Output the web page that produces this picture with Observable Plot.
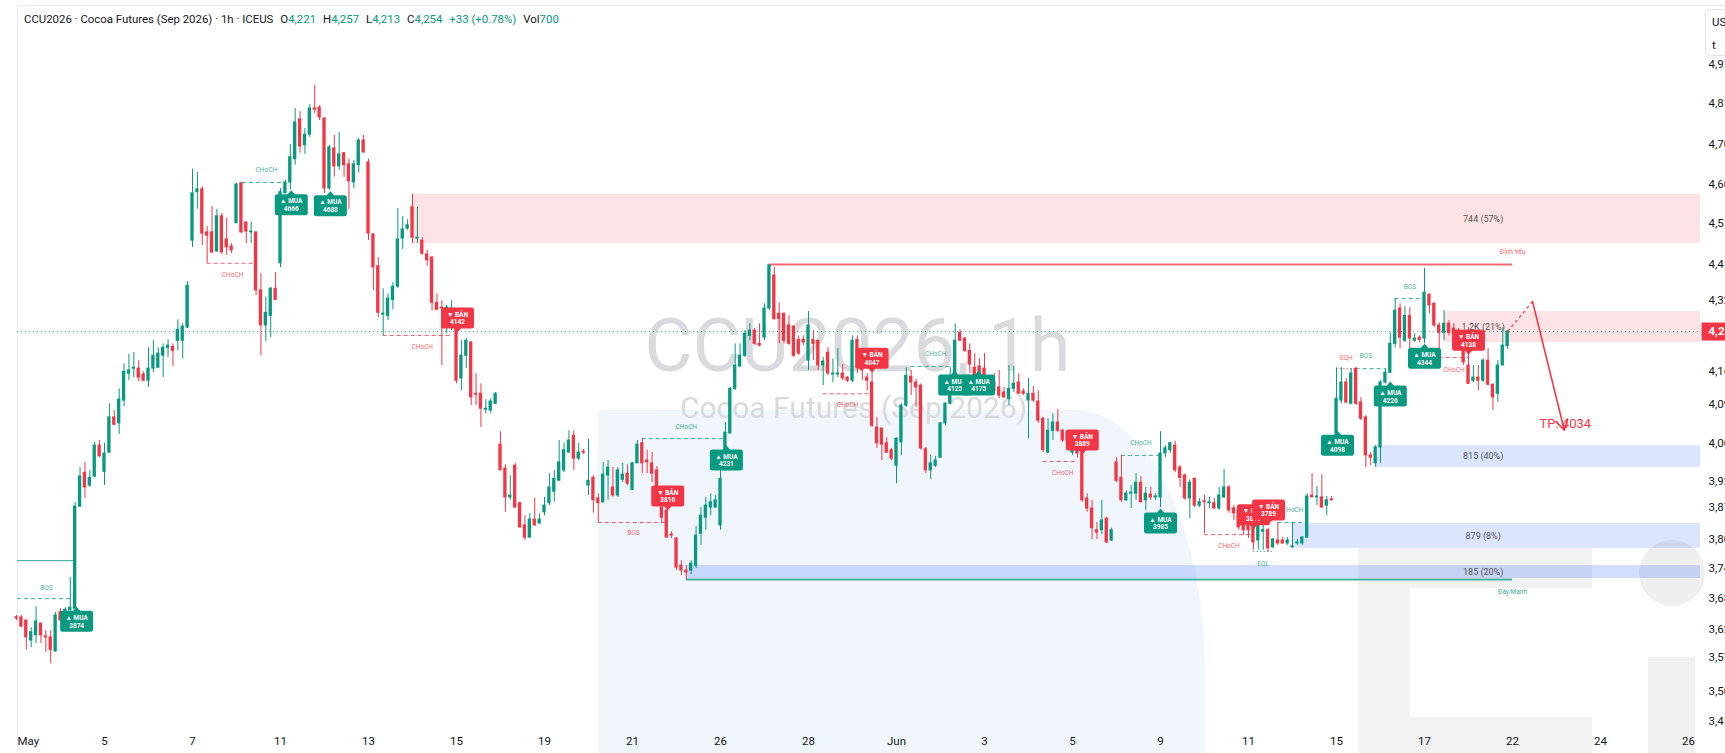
<!DOCTYPE html>
<html><head><meta charset="utf-8">
<script src="https://cdn.jsdelivr.net/npm/d3@7"></script>
<script src="https://cdn.jsdelivr.net/npm/@observablehq/plot@0.6"></script>
<style>
html,body{margin:0;padding:0;background:#fff;}
body{width:1725px;height:753px;overflow:hidden;position:relative;font-family:Roboto,"Liberation Sans",sans-serif;}
.bg{position:absolute;}
#chart{position:absolute;left:0;top:0;}
#hdr{position:absolute;left:24px;top:12px;font-size:11.4px;color:#131722;white-space:nowrap;line-height:14px;}
#hdr .v{color:#089981;}
#hdr .k{margin-left:7px;}
#usd{position:absolute;left:1705px;top:9px;width:34px;height:45px;border:1px solid #e0e3eb;border-radius:4px;background:#fff;font-size:11.5px;color:#131722;}
</style></head><body>
<div class="bg" style="left:17px;top:5px;width:1708px;height:748px;border-left:1px solid #e9ebf0;border-top:1px solid #e9ebf0;"></div>
<div class="bg" style="left:598px;top:410px;width:607px;height:343px;background:#f1f6fd;border-top-right-radius:130px 260px;"></div>
<div class="bg" style="left:1358px;top:548px;width:234px;height:205px;background:#f2f2f2;"></div>
<div class="bg" style="left:1410px;top:588px;width:190px;height:129px;background:#fff;"></div>
<div class="bg" style="left:1639px;top:540px;width:66px;height:66px;border-radius:50%;background:#efefef;"></div>
<div class="bg" style="left:1648px;top:657px;width:47px;height:96px;background:#f1f1f1;"></div>
<div id="chart"></div>
<div id="hdr"></div>
<div id="usd"><div style="position:absolute;left:6px;top:5px">US</div><div style="position:absolute;left:6px;top:28px">t</div></div>
<script>
// ---------- header ----------
const symbolInfo = ["CCU2026", "Cocoa Futures (Sep 2026)", "1h", "ICEUS"];
const ohlcKeys = ["O", "H", "L", "C"];
const ohlcVals = [4221, 4257, 4213, 4254];
const changeText = "+33 (+0.78%)";
const volumeText = "700";

// ---------- hourly candles (9 bars per trading day, May 1 .. Jun 18) ----------
const barsPerDay = 9;
const open = [
3648,3648,3642,3603,3613,3636,3611,3609,3582,3658,
3660,3662,3665,3872,3943,3916,3935,4001,3945,3986,
4062,4049,4099,4159,4170,4170,4157,4143,4170,4172,
4199,4217,4219,4233,4233,4263,4467,4585,4592,4487,
4487,4441,4526,4470,4453,4509,4607,4511,4487,4487,
4349,4268,4290,4353,4413,4582,4609,4667,4768,4702,
4729,4796,4798,4770,4594,4694,4649,4682,4654,4609,
4652,4714,4659,4482,4406,4293,4290,4327,4358,4472,
4496,4548,4472,4467,4434,4427,4320,4309,4265,4297,
4279,4148,4199,4229,4114,4114,4079,4077,4092,4003,
3952,3891,3958,3879,3833,3808,3845,3837,3860,3879,
3903,3926,3948,3986,4022,3973,3988,3916,3932,3889,
3881,3937,3912,3895,3928,3941,3907,3963,4006,3969,
3963,3948,3870,3864,3814,3806,3751,3741,3741,3751,
3816,3849,3870,3870,3833,3948,4027,4125,4175,4199,
4244,4256,4226,4240,4307,4384,4295,4295,4268,4265,
4235,4235,4188,4235,4233,4177,4206,4157,4157,4159,
4150,4143,4235,4170,4150,4139,4040,4038,4006,3991,
3958,4008,4088,4152,4139,4132,3993,3948,3958,3975,
4049,4092,4128,4251,4238,4210,4172,4175,4170,4143,
4139,4128,4117,4103,4125,4139,4119,4099,4114,4097,
4059,3986,4033,4051,4033,4029,3986,4012,3984,3889,
3868,3823,3823,3847,3802,3965,3932,3885,3899,3899,
3922,3885,3897,3891,3891,3984,3991,4001,3954,3937,
3889,3930,3874,3883,3879,3879,3868,3891,3912,3868,
3864,3853,3843,3843,3802,3820,3823,3788,3802,3802,
3796,3788,3796,3796,3808,3895,3891,3891,3874,3887,
4027,4099,4139,4092,4170,4095,4062,3980,3963,3997,
4139,4161,4226,4307,4233,4290,4233,4240,4238,4339,
4318,4268,4251,4272,4261,4256,4233,4177,4143,4150,
4143,4188,4134,4114,4177,4221];
const high = [
3652,3652,3642,3628,3669,3636,3622,3622,3658,3665,
3667,3727,3881,3954,3965,3948,4008,4012,4006,4092,
4077,4125,4181,4202,4206,4188,4163,4217,4233,4217,
4226,4235,4226,4281,4272,4370,4642,4634,4599,4501,
4550,4543,4533,4521,4460,4607,4609,4511,4511,4487,
4389,4334,4356,4391,4594,4614,4704,4796,4788,4745,
4806,4856,4803,4773,4702,4727,4735,4684,4667,4664,
4719,4727,4667,4484,4427,4353,4341,4367,4545,4526,
4518,4580,4548,4474,4444,4427,4341,4325,4314,4325,
4284,4233,4238,4231,4159,4136,4101,4103,4117,4031,
3960,3937,3963,3881,3853,3857,3889,3857,3891,3941,
3948,4012,4006,4033,4033,4006,3993,4014,3937,3899,
3965,3969,3954,3954,3963,3960,3965,4012,4016,3991,
3986,3956,3885,3864,3820,3808,3761,3751,3761,3831,
3870,3891,3899,3895,3948,4051,4128,4226,4226,4256,
4272,4261,4272,4318,4410,4403,4320,4295,4290,4268,
4244,4244,4300,4256,4233,4195,4217,4192,4215,4179,
4152,4244,4244,4175,4159,4161,4062,4038,4018,3995,
4018,4092,4172,4166,4146,4136,3997,3980,3978,4051,
4095,4172,4272,4258,4240,4226,4204,4192,4204,4154,
4159,4166,4128,4177,4175,4159,4125,4148,4130,4121,
4062,4059,4070,4079,4036,4033,4033,4020,3986,3899,
3885,3839,3885,3849,3827,3975,3980,3905,3916,3941,
3935,3912,3912,3899,4031,4001,4008,4010,3958,3941,
3928,3932,3889,3895,3891,3889,3912,3950,3916,3874,
3874,3860,3853,3847,3857,3833,3827,3806,3839,3808,
3808,3839,3804,3810,3899,3941,3914,3939,3893,3893,
4172,4172,4148,4170,4172,4106,4066,3986,4001,4143,
4170,4251,4330,4318,4311,4309,4249,4244,4401,4341,
4320,4274,4302,4279,4272,4261,4249,4263,4177,4177,
4192,4215,4136,4188,4263,4257];
const low = [
3642,3628,3584,3589,3597,3597,3580,3558,3580,3640,
3656,3658,3665,3870,3889,3912,3932,3975,3916,3984,
4044,4025,4086,4143,4150,4141,4141,4128,4161,4170,
4150,4195,4175,4210,4192,4261,4451,4543,4455,4413,
4436,4439,4434,4432,4436,4509,4484,4460,4460,4337,
4199,4231,4240,4325,4403,4582,4590,4652,4682,4679,
4722,4783,4765,4582,4590,4622,4639,4622,4543,4594,
4632,4682,4467,4349,4286,4244,4279,4304,4353,4446,
4492,4460,4460,4432,4406,4302,4302,4177,4249,4256,
4136,4121,4170,4088,4088,4040,4070,4070,4090,3948,
3860,3885,3868,3827,3802,3806,3831,3835,3853,3874,
3881,3926,3943,3984,3948,3969,3982,3895,3858,3839,
3879,3885,3891,3891,3922,3916,3905,3963,3941,3941,
3922,3885,3837,3806,3806,3741,3731,3723,3733,3745,
3792,3823,3853,3868,3823,3948,4027,4121,4172,4195,
4233,4222,4219,4233,4302,4279,4226,4226,4222,4195,
4199,4222,4166,4188,4166,4132,4154,4139,4150,4143,
4139,4139,4159,4143,4121,4040,3995,3969,3984,3969,
3920,3980,4084,4110,4084,3991,3941,3928,3954,3975,
4044,4090,4128,4231,4206,4159,4143,4143,4117,4128,
4114,4103,4103,4088,4117,4114,4110,4016,4095,4049,
3986,3984,4012,4029,4008,4001,3980,3975,3881,3860,
3804,3804,3814,3796,3800,3922,3881,3883,3868,3885,
3879,3864,3885,3885,3870,3975,3984,3943,3912,3885,
3847,3870,3870,3816,3868,3866,3864,3889,3858,3843,
3823,3812,3806,3782,3782,3782,3778,3786,3792,3794,
3792,3786,3792,3792,3806,3891,3874,3868,3853,3883,
4025,4092,4092,4090,4088,4055,3954,3958,3954,3963,
4136,4159,4217,4215,4229,4215,4229,4229,4226,4295,
4263,4195,4233,4244,4242,4222,4177,4136,4139,4121,
4139,4132,4077,4095,4177,4213];
const close = [
3646,3630,3609,3619,3640,3613,3609,3585,3652,3642,
3663,3667,3872,3935,3912,3932,4001,3978,3984,4062,
4046,4101,4163,4166,4172,4150,4143,4170,4199,4204,
4217,4222,4210,4258,4265,4360,4582,4592,4484,4479,
4439,4526,4439,4451,4444,4604,4487,4489,4489,4349,
4268,4297,4353,4327,4585,4609,4672,4760,4699,4729,
4796,4793,4773,4594,4697,4649,4679,4652,4612,4654,
4714,4684,4484,4403,4297,4295,4330,4358,4470,4494,
4504,4474,4474,4436,4420,4320,4304,4307,4309,4307,
4143,4199,4233,4106,4112,4081,4081,4097,4114,3948,
3891,3895,3870,3829,3808,3845,3833,3845,3874,3912,
3930,3965,3991,4012,3973,3986,3986,3926,3885,3879,
3939,3954,3895,3948,3939,3920,3963,4003,3963,3965,
3941,3912,3849,3808,3812,3747,3741,3737,3755,3812,
3853,3874,3881,3885,3930,4029,4125,4177,4199,4249,
4256,4226,4222,4307,4408,4283,4283,4233,4226,4199,
4204,4229,4268,4226,4177,4186,4159,4159,4159,4148,
4143,4233,4172,4166,4143,4044,4006,4003,3986,3973,
4016,4088,4154,4139,4128,3995,3948,3963,3969,4049,
4092,4128,4233,4233,4210,4179,4148,4150,4139,4134,
4121,4110,4106,4125,4136,4114,4114,4114,4099,4055,
3991,4033,4051,4033,4012,4012,4027,3984,3885,3868,
3827,3818,3843,3798,3823,3926,3885,3899,3901,3922,
3881,3899,3891,3893,3984,3995,4006,3948,3932,3889,
3922,3874,3881,3881,3881,3868,3895,3912,3864,3858,
3829,3823,3823,3798,3843,3823,3786,3804,3796,3796,
3802,3790,3798,3808,3893,3891,3893,3870,3885,3885,
4103,4139,4095,4159,4092,4059,3980,3975,3997,4139,
4161,4226,4302,4240,4290,4238,4238,4235,4344,4314,
4268,4251,4272,4251,4249,4233,4184,4136,4150,4143,
4188,4134,4106,4177,4222,4254];

// ---------- axes ----------
const dayTickLabel = ["May","5","7","11","13","15","19","21","26","28","Jun","3","5","9","11","15","17","22","24","26"];
const dayTickIndex = [0,2,4,6,8,10,12,14,16,18,20,22,24,26,28,30,32,34,36,38];
const yTicks = [4910,4810,4705,4605,4510,4410,4325,4165,4090,4005,3925,3870,3805,3745,3685,3625,3570,3505,3450];

// ---------- zones ----------
const zoneLabel  = ["744 (57%)","1.2K (21%)","815 (40%)","879 (8%)","185 (20%)"];
const zoneKind   = ["supply","supply","demand","demand","demand"];
const zoneStart  = [81, 292, 278, 261, 137];
const zoneTop    = [4580, 4300, 4001, 3837, 3751];
const zoneBottom = [4460, 4229, 3954, 3786, 3725];
const zoneLabelBar = 300;

// ---------- structure (BOS / CHoCH / EQ) lines ----------
const structKind  = ["level","BOS","CHoCH","CHoCH","CHoCH","BOS","CHoCH","CHoCH","CHoCH","CHoCH","CHoCH","CHoCH","EQL","CHoCH","EQH","BOS","BOS","CHoCH"];
const structSide  = ["bull","bull","bull","bear","bear","bear","bull","bear","bull","bear","bull","bear","bull","bull","bear","bull","bull","bear"];
const structStart = [0.2,0.2,46.2,39,75,119,128,165,183,210,226,243,253,258,270,274,282,291];
const structEnd   = [12,11.5,55,48.7,89,132.7,145,174.5,192,217,234,253,257,263,274,280,288,297];
const structPrice = [3761,3685,4609,4413,4245,3839,4016,4114,4175,3967,3980,3814,3780,3839,4170,4170,4330,4195];

const tagText  = ["BOS","CHoCH","CHoCH","CHoCH","BOS","CHoCH","CHoCH","CHoCH","CHoCH","CHoCH","CHoCH","EQL","CHoCH","EQH","BOS","BOS","CHoCH"];
const tagSide  = ["bull","bull","bear","bear","bear","bull","bear","bull","bear","bull","bear","bull","bull","bear","bull","bull","bear"];
const tagBar   = [6.1,51.1,44.2,83,126.2,137,170,188,214,230,248,255,261,272,276,285,294];
const tagPrice = [3707,4641,4386,4220,3818,4042,4090,4204,3943,4006,3790,3755,3866,4195,4199,4358,4168];

// ---------- key levels ----------
const keyText  = ["Đỉnh Yếu","Đáy Mạnh"];
const keySide  = ["bear","bull"];
const keyStart = [154, 137];
const keyEnd   = [306, 306];
const keyPrice = [4410, 3723];
const keyTextPrice = [4439, 3699];

// ---------- buy / sell signals ----------
const sigType  = ["MUA","MUA","MUA","BÁN","BÁN","MUA","BÁN","MUA","MUA","BÁN","MUA","BÁN","BÁN","MUA","MUA","MUA","BÁN"];
const sigValue = ["3874","4666","4688","4142","3816","4231","4047","4125","4175","3889","3985","3810","3789","4098","4226","4344","4138"];
const sigBar   = [12.3,56.2,64.2,90.2,133.2,145.2,175,191.9,196.8,218,234,253,256.1,270.2,281,288,297];
const sigPrice = [3669,4590,4587,4252,3864,4001,4161,4166,4166,3982,3868,3825,3835,4033,4141,4226,4201];

// ---------- TP projection ----------
const tpBar   = [305, 310.1, 316.6];
const tpPrice = [4254, 4323, 4034];
const tpLabel = "TP: 4034";
const tpLabelBar = 316.8, tpLabelPrice = 4049;

const watermark = ["CCU2026, 1h", "Cocoa Futures (Sep 2026)"];

// =====================================================
const fmt = d3.format(",");
const UP = "#089981", DOWN = "#f23645";
const sideColor = s => s === "bull" ? UP : DOWN;
const xEnd = 344.45;

document.getElementById("hdr").innerHTML =
  symbolInfo.join(" · ") +
  ohlcKeys.map((k, i) => `<span class="k">${k}<span class="v">${fmt(ohlcVals[i])}</span></span>`).join("") +
  `<span class="k v">${changeText}</span><span class="k">Vol<span class="v">${volumeText}</span></span>`;

const candles = open.map((o, i) => ({i, open: o, high: high[i], low: low[i], close: close[i]}));
const candleColor = d => d.close >= d.open ? UP : DOWN;
const last = candles[candles.length - 1];

const zones = zoneLabel.map((label, k) => ({label, kind: zoneKind[k], start: zoneStart[k], top: zoneTop[k], bottom: zoneBottom[k]}));
const structs = structKind.map((kind, k) => ({kind, side: structSide[k], x1: structStart[k], x2: structEnd[k], price: structPrice[k]}));
const tags = tagText.map((text, k) => ({text, side: tagSide[k], bar: tagBar[k], price: tagPrice[k]}));
const keys = keyText.map((text, k) => ({text, side: keySide[k], x1: keyStart[k], x2: keyEnd[k], price: keyPrice[k], tprice: keyTextPrice[k]}));
const signals = sigType.map((type, k) => ({type, value: sigValue[k], bar: sigBar[k], price: sigPrice[k]}));
const ticksX = dayTickIndex.map((d, k) => ({bar: d * barsPerDay, label: dayTickLabel[k]}));

function labelSymbol(dir) {
  const w = 16.5, h = 21, p = 4, r = 2.5;
  return {draw(ctx) {
    const a = dir * p, b = dir * (p + h);
    ctx.moveTo(0, 0);
    ctx.lineTo(3.5, a);
    ctx.lineTo(w - r, a);
    ctx.arcTo(w, a, w, a + dir * r, r);
    ctx.lineTo(w, b - dir * r);
    ctx.arcTo(w, b, w - r, b, r);
    ctx.lineTo(-w + r, b);
    ctx.arcTo(-w, b, -w, b - dir * r, r);
    ctx.lineTo(-w, a + dir * r);
    ctx.arcTo(-w, a, -w + r, a, r);
    ctx.lineTo(-3.5, a);
    ctx.closePath();
  }};
}
const muaSym = labelSymbol(1), banSym = labelSymbol(-1);
const tagSym = {draw(ctx) { ctx.rect(1, -9, 30, 18); }};

const signalMarks = signals.flatMap(s => {
  const isBuy = s.type === "MUA";
  return [
    Plot.dot([s], {x: "bar", y: "price", r: 10, symbol: isBuy ? muaSym : banSym, fill: isBuy ? UP : DOWN, stroke: "none"}),
    Plot.text([s], {x: "bar", y: "price", text: d => (isBuy ? "▲ MUA" : "▼ BÁN") + "\n" + d.value,
      dy: isBuy ? 14.5 : -14.5, fill: "#fff", fontSize: 6.5, fontWeight: "bold", lineHeight: 1.2})
  ];
});

const chart = Plot.plot({
  width: 1725, height: 753,
  marginLeft: 0, marginRight: 25, marginTop: 0, marginBottom: 0,
  style: {background: "transparent", fontFamily: "Roboto, 'Liberation Sans', sans-serif", overflow: "hidden"},
  color: {type: "identity"},
  x: {domain: [0, xEnd], range: [16, 1700], axis: null},
  y: {type: "log", domain: [3450, 5000], range: [720.7, 30.5], axis: null},
  marks: [
    Plot.text([watermark[0]], {frameAnchor: "top-left", dx: 857, dy: 347, lineAnchor: "middle", text: d => d, fontSize: 74, fill: "#d9dadd", textAnchor: "middle"}),
    Plot.text([watermark[1]], {frameAnchor: "top-left", dx: 853, dy: 408, lineAnchor: "middle", text: d => d, fontSize: 30, fill: "#d9dadd", textAnchor: "middle"}),
    Plot.rect(zones, {x1: "start", x2: xEnd, y1: "bottom", y2: "top",
      fill: d => d.kind === "supply" ? "rgba(242,54,69,0.14)" : (d.label.startsWith("185") ? "rgba(41,98,255,0.21)" : "rgba(41,98,255,0.17)")}),
    Plot.text(zones, {x: zoneLabelBar, y: d => Math.sqrt(d.top * d.bottom), text: "label", fontSize: 9, fill: "#555"}),
    Plot.ruleY(keys, {y: "price", x1: "x1", x2: "x2", stroke: d => sideColor(d.side), strokeWidth: 2, strokeOpacity: 0.75}),
    Plot.text(keys, {x: "x2", y: "tprice", text: "text", fill: d => sideColor(d.side), fontSize: 6.5, fillOpacity: 0.85}),
    Plot.ruleY(structs, {filter: d => d.kind === "BOS" || d.kind === "CHoCH", y: "price", x1: "x1", x2: "x2", stroke: d => sideColor(d.side), strokeDasharray: "4,3", strokeOpacity: 0.8}),
    Plot.ruleY(structs, {filter: d => d.kind === "EQL" || d.kind === "EQH", y: "price", x1: "x1", x2: "x2", stroke: d => sideColor(d.side), strokeDasharray: "1.5,2", strokeOpacity: 0.8}),
    Plot.ruleY(structs, {filter: d => d.kind === "level", y: "price", x1: "x1", x2: "x2", stroke: d => sideColor(d.side), strokeOpacity: 0.85}),
    Plot.text(tags, {x: "bar", y: "price", text: "text", fill: d => sideColor(d.side), fontSize: 6.5, fillOpacity: 0.8}),
    Plot.ruleY([last.close], {y: d => d, x1: 0.2, x2: xEnd, stroke: UP, strokeDasharray: "1,3", strokeOpacity: 0.8}),
    Plot.ruleX(candles, {x: "i", y1: "low", y2: "high", stroke: candleColor, strokeWidth: 1}),
    Plot.rect(candles, {x1: d => d.i - 0.34, x2: d => d.i + 0.34, y1: "open", y2: "close", fill: candleColor, insetTop: -0.5, insetBottom: -0.5}),
    ...signalMarks,
    Plot.link([{x1: tpBar[0], y1: tpPrice[0], x2: tpBar[1], y2: tpPrice[1]}], {x1: "x1", y1: "y1", x2: "x2", y2: "y2", stroke: DOWN, strokeWidth: 1.2, strokeDasharray: "3,3"}),
    Plot.arrow([{x1: tpBar[1], y1: tpPrice[1], x2: tpBar[2], y2: tpPrice[2]}], {x1: "x1", y1: "y1", x2: "x2", y2: "y2", stroke: DOWN, strokeWidth: 1.6, headLength: 11}),
    Plot.text([tpLabel], {x: tpLabelBar, y: tpLabelPrice, text: d => d, fill: DOWN, fontSize: 13}),
    Plot.text(yTicks, {x: xEnd, y: d => d, text: d => fmt(d), dx: 8, textAnchor: "start", fill: "#131722", fontSize: 11.5}),
    Plot.dot([last.close], {x: xEnd, y: d => d, r: 9, symbol: tagSym, fill: DOWN, stroke: "none"}),
    Plot.text([last.close], {x: xEnd, y: d => d, text: d => fmt(d), dx: 8, textAnchor: "start", fill: "#fff", fontWeight: "bold", fontSize: 11.5}),
    Plot.text(ticksX.slice(0, 1), {x: "bar", text: "label", frameAnchor: "bottom", dy: -9, dx: 1, textAnchor: "start", fill: "#131722", fontSize: 11.5}),
    Plot.text(ticksX.slice(1), {x: "bar", text: "label", frameAnchor: "bottom", dy: -9, fill: "#131722", fontSize: 11.5})
  ]
});
document.getElementById("chart").appendChild(chart);
</script>
</body></html>
